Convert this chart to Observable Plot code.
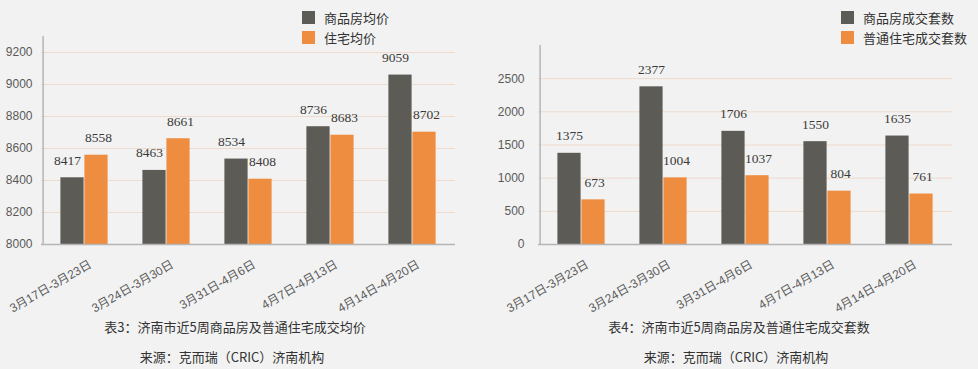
<!DOCTYPE html>
<html><head><meta charset="utf-8">
<script src="https://cdn.jsdelivr.net/npm/d3@7"></script>
<script src="https://cdn.jsdelivr.net/npm/@observablehq/plot@0.6"></script>
<style>
body{margin:0;background:#f2f2f2;}
#wrap{display:flex;width:978px;height:369px;}
.panel{position:relative;width:489px;height:369px;overflow:hidden;}
.panel svg{position:absolute;left:0;top:0;}
.lg{position:absolute;display:flex;align-items:center;height:13px;font:13px/13px "Noto Sans CJK SC",sans-serif;color:#333;white-space:nowrap;}
.sw{width:13px;height:13px;margin-right:9px;flex:none;}
.cap{position:absolute;transform:translateX(-50%);white-space:nowrap;font:13px/16px "Noto Sans CJK SC",sans-serif;color:#333;}
</style></head>
<body><div id="wrap"></div>
<script>
const weeks = ["3月17日-3月23日","3月24日-3月30日","3月31日-4月6日","4月7日-4月13日","4月14日-4月20日"];
const priceSeries = ["商品房均价","住宅均价"];
const commercialPrice = [8417,8463,8534,8736,9059];
const residentialPrice = [8558,8661,8408,8683,8702];
const priceTicks = [8000,8200,8400,8600,8800,9000,9200];
const countSeries = ["商品房成交套数","普通住宅成交套数"];
const commercialCount = [1375,2377,1706,1550,1635];
const residentialCount = [673,1004,1037,804,761];
const countTicks = [0,500,1000,1500,2000,2500];
const captions = ["表3：济南市近5周商品房及普通住宅成交均价","表4：济南市近5周商品房及普通住宅成交套数"];
const source = "来源：克而瑞（CRIC）济南机构";
const colors = ["#5c5b56","#ee8d3f"];

function panel(cfg){
  const div = document.createElement("div");
  div.className = "panel";
  document.getElementById("wrap").appendChild(div);
  const W = 489, H = 320;
  const bw = (W - cfg.ml - cfg.mr) / weeks.length;
  const barW = 24;
  const rows = [];
  weeks.forEach((w,i)=>{
    rows.push({week:w, s:0, value:cfg.a[i]});
    rows.push({week:w, s:1, value:cfg.b[i]});
  });
  const A = rows.filter(d=>d.s===0), B = rows.filter(d=>d.s===1);
  const lo = cfg.domain[0];
  const svg = Plot.plot({
    width: W, height: H,
    marginLeft: cfg.ml, marginRight: cfg.mr, marginTop: cfg.mt, marginBottom: H - 244,
    style: {background:"transparent", fontFamily:"'Liberation Sans','Noto Sans CJK SC',sans-serif"},
    x: {type:"band", domain: weeks, paddingInner:0, paddingOuter:0},
    y: {domain: cfg.domain},
    marks: [
      Plot.ruleY(cfg.ticks.slice(1), {stroke:"#f0dacb", strokeWidth:1}),
      Plot.barY(A, {x:"week", y1:()=>lo, y2:"value", fill:colors[0], insetLeft: bw/2 - barW, insetRight: bw/2}),
      Plot.barY(B, {x:"week", y1:()=>lo, y2:"value", fill:colors[1], insetLeft: bw/2, insetRight: bw/2 - barW}),
      Plot.text(A, {x:"week", y:"value", text:d=>String(d.value), dx:-12 + cfg.dxa, dy:-13, lineAnchor:"bottom", fontSize:13.5, fontFamily:"'Liberation Serif',serif", fill:"#3a3a3a"}),
      Plot.text(B, {x:"week", y:"value", text:d=>String(d.value), dx:12 + cfg.dxb, dy:-13, lineAnchor:"bottom", fontSize:13.5, fontFamily:"'Liberation Serif',serif", fill:"#3a3a3a"}),
      Plot.ruleY([lo], {stroke:"#b5b5b5", strokeWidth:1.5}),
      Plot.ruleX([weeks[0]], {y1:()=>cfg.domain[0], y2:()=>cfg.domain[1], dx:-bw/2, stroke:"#b5b5b5", strokeWidth:1.5}),
      Plot.axisY({ticks: cfg.ticks, tickFormat: d=>String(d), tickSize:0, tickPadding: cfg.tp, fontSize:12, fill:"#5a5a5a", label:null}),
      Plot.axisX({tickSize:0, tickPadding:19, tickRotate:-30, textAnchor:"end", lineAnchor:"middle", dx:6, fontSize:12, fill:"#5a5a5a", label:null})
    ]
  });
  div.appendChild(svg);
  cfg.series.forEach((s,i)=>{
    const lg = document.createElement("div");
    lg.className = "lg";
    lg.style.left = cfg.lgx + "px";
    lg.style.top = (11 + 20*i) + "px";
    const sw = document.createElement("div");
    sw.className = "sw"; sw.style.background = colors[i];
    lg.appendChild(sw);
    lg.appendChild(document.createTextNode(s));
    div.appendChild(lg);
  });
  [[cfg.caption, 319, cfg.cx1],[source, 349, cfg.cx2]].forEach(([t,y,x])=>{
    const c = document.createElement("div");
    c.className = "cap"; c.textContent = t;
    c.style.left = x + "px"; c.style.top = y + "px";
    div.appendChild(c);
  });
}

panel({a:commercialPrice, b:residentialPrice, series:priceSeries, domain:[8000,9300], ticks:priceTicks,
  ml:41, mr:34, mt:36, tp:9, dxa:-5, dxb:2, lgx:302, caption:captions[0], cx1:235, cx2:232});
panel({a:commercialCount, b:residentialCount, series:countSeries, domain:[0,3000], ticks:countTicks,
  ml:49, mr:26, mt:45, tp:14, dxa:0, dxb:1, lgx:352, caption:captions[1], cx1:250, cx2:247});
</script></body></html>
